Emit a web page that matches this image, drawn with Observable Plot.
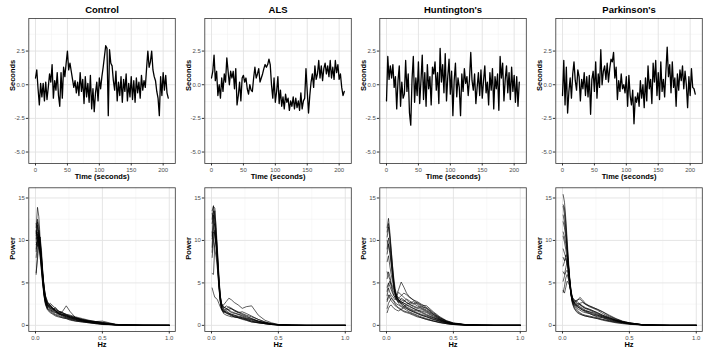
<!DOCTYPE html>
<html>
<head>
<meta charset="utf-8">
<script src="https://cdn.jsdelivr.net/npm/d3@7"></script>
<script src="https://cdn.jsdelivr.net/npm/@observablehq/plot@0.6"></script>
<style>
  body { margin: 0; background: #fff; }
  #chart { position: relative; width: 709px; height: 355px; font-family: "Liberation Sans", Arial, sans-serif; }
  #chart svg { position: absolute; overflow: visible; }
  #chart g[aria-label="x-axis tick label"] text,
  #chart g[aria-label="y-axis tick label"] text { fill: #4d4d4d; }
</style>
</head>
<body>
<div id="chart"></div>
<script>
// Facet titles
const groups = ["Control", "ALS", "Huntington's", "Parkinson's"];

// Stride-interval series, one value every 2 seconds (deviation in seconds)
const timeStep = 2;
const controlSignal = [
  0.5, 1.1, -0.3, -1.5, 0.1, -0.9, 0.1, -1.2, 0.2, -1.1,
  -0.2, 0.8, 0.2, 1.5, -1.0, 0.3, -0.4, 0.9, -0.8, -1.6,
  0.9, -1.0, 1.3, 0.6, 1.6, 2.5, 1.1, 1.6, 1.0, 0.4,
  -0.2, 0.3, -0.6, 0.2, -0.8, 0.9, -0.5, 0.4, -1.4, 0.6,
  -0.9, 0.1, -1.3, 0.7, -1.8, -0.3, -2.0, -0.6, 0.2, -1.2,
  0.5, -0.3, 0.6, 1.3, 2.1, 2.9, 2.7, -2.3, 2.6, 1.6,
  1.4, 0.3, -0.4, 1.0, -1.2, 0.2, -0.8, 0.6, -1.3, 0.4,
  -0.5, 0.8, -1.2, 0.1, -0.9, 0.6, -1.1, 0.3, -1.3, 0.5,
  -0.6, 0.2, -1.0, 0.7, -0.4, 0.3, -0.2, 1.2, 2.5, 1.3,
  1.7, 2.5, 1.1, 0.6, 0.3, -0.5, -1.0, -2.3, 0.6, -0.8,
  0.9, -0.4, 0.7, -0.6, -1.0
];
const alsSignal = [
  0.5, 1.0, 2.2, 0.3, 1.0, -0.8, 0.0, -1.0, 0.5, -0.5,
  0.8, 0.2, 2.0, 1.0, 0.0, 1.0, 0.5, 1.0, -0.3, 1.2,
  -1.5, -0.8, 0.2, -1.2, 0.5, 0.7, 0.2, 0.5, -0.3, -0.7,
  0.0, -0.4, -0.5, 0.5, 1.3, 0.5, 0.8, 1.2, 0.2, 0.5,
  0.8, 1.2, 1.5, 1.3, 1.5, 1.9, 1.5, 0.0, -1.0, 0.5,
  -1.3, -0.5, 0.6, -1.4, -0.4, -1.6, -0.9, -1.8, -0.7, -1.3,
  -1.0, -1.9, -1.2, -1.6, -0.9, -1.8, -1.0, -1.7, -1.2, -1.9,
  -0.6, -1.8, -1.2, -1.0, 1.2, -0.5, -2.1, -0.8, 0.2, 0.8,
  -0.2, 1.4, 0.4, 0.8, 1.8, 0.5, 1.4, 0.3, 1.2, 1.6,
  0.8, 1.4, 0.6, 1.8, 0.5, 1.3, 0.4, 1.8, 0.9, 1.5,
  0.4, 0.8, -0.2, -0.8, -0.5
];
const huntingtonSignal = [
  -1.2, 2.1, 0.4, 1.4, 0.5, 1.5, -0.2, 0.6, -1.8, 0.3,
  1.4, -1.6, 0.2, -1.0, -0.7, 1.8, -0.5, 0.8, -2.1, -3.0,
  0.4, 2.1, -1.3, 0.5, -0.8, 1.7, -1.4, 0.3, 2.2, -1.1,
  0.9, -1.6, 1.5, -0.3, 0.6, -1.5, 1.3, 0.8, 1.7, -0.4,
  0.9, -1.4, 2.7, 0.2, 1.5, -0.6, 2.3, -1.2, 0.6, 1.9,
  -0.7, 1.0, -2.3, 0.3, 1.6, -0.9, 0.5, -0.2, -2.3, 0.8,
  -0.5, 1.2, 0.1, 0.6, -0.8, 0.4, 2.4, 0.3, -0.4, 0.8,
  -1.4, -0.2, 0.9, -0.8, 1.1, -1.0, 0.3, 1.4, -0.6, 0.2,
  -1.5, 0.9, -0.4, 1.2, -1.8, 0.6, -0.3, 0.8, -1.9, 2.1,
  0.5, 1.6, -1.2, 0.4, 1.4, -0.6, 0.9, -1.1, 1.3, -0.5,
  0.7, -1.3, 0.6, -1.6, 0.2
];
const parkinsonSignal = [
  -0.8, 1.8, -1.5, 1.3, -2.1, -0.5, 0.5, -1.0, 0.8, 1.7,
  0.3, -0.4, 1.1, 0.6, -1.2, 0.4, -0.3, 0.9, -0.8, 0.6,
  -0.9, 0.7, -2.2, 0.4, 1.0, -0.5, 1.7, -1.0, 0.8, -0.2,
  2.6, 0.0, 1.0, 1.4, 0.4, 1.6, 0.2, 1.2, 1.9, 1.7,
  2.4, 0.5, 1.3, -1.1, 0.3, -0.5, 0.8, -0.3, 0.0, -0.6,
  0.6, -1.6, 0.7, -0.8, -1.5, -0.4, -2.9, -0.9, -1.3, -0.6,
  -1.6, 0.3, -1.0, 0.0, -1.7, 0.5, -1.2, 1.4, -0.3, 0.4,
  -1.4, 1.6, 0.2, 1.8, -0.8, 0.9, -1.1, 1.7, -0.5, 0.4,
  -0.9, 1.0, 2.8, 0.6, 1.5, -0.6, 1.7, -0.2, 0.5, -1.6,
  0.8, -0.4, 1.1, 0.3, 1.4, -0.3, 1.0, 0.0, -1.7, 0.6,
  -0.8, 1.2, -0.2, -0.3, -0.7
];

// Frequencies (Hz) at which each subject's power spectrum is listed
const hz = [0.005, 0.015, 0.025, 0.035, 0.045, 0.055, 0.065, 0.075, 0.09, 0.11,
            0.13, 0.15, 0.17, 0.2, 0.23, 0.26, 0.3, 0.35, 0.4, 0.45,
            0.5, 0.6, 0.7, 0.8, 1.0];

// Power spectra, one row per subject
const controlSpectra = [
  [11.5,13.9,12.8,10.2,8.1,6.0,4.2,3.0,2.3,2.0,1.8,1.6,1.4,1.2,1.0,0.8,0.6,0.45,0.35,0.25,0.15,0.06,0.02,0.01,0],
  [10.2,12.2,11.0,9.5,7.6,5.5,3.8,2.7,2.1,2.4,2.1,1.7,1.5,1.6,2.3,1.6,0.9,0.6,0.45,0.4,0.35,0.1,0.03,0.01,0],
  [9.0,10.8,10.1,8.7,6.9,5.0,3.6,2.6,2.2,1.9,1.5,1.3,1.2,1.0,0.9,0.8,0.7,0.5,0.4,0.3,0.2,0.08,0.03,0.01,0],
  [6.2,7.8,9.5,10.4,8.8,6.2,4.0,3.1,2.5,2.2,1.9,1.7,1.5,1.3,1.1,0.9,0.7,0.5,0.35,0.25,0.15,0.05,0.02,0,0],
  [11.0,10.5,9.6,8.0,6.5,4.8,3.5,2.8,2.0,1.7,1.6,1.5,1.3,1.2,1.0,0.9,0.8,0.6,0.5,0.45,0.5,0.12,0.03,0.01,0],
  [8.0,9.6,11.2,9.9,7.7,5.6,4.1,3.2,2.6,2.4,2.0,1.8,1.4,1.1,0.9,0.7,0.5,0.4,0.3,0.2,0.1,0.04,0.01,0,0],
  [10.6,11.8,10.4,9.1,7.2,5.2,3.9,3.0,2.4,2.0,1.8,2.1,1.7,1.4,1.2,1.0,0.8,0.6,0.5,0.35,0.2,0.07,0.02,0.01,0],
  [9.5,10.0,9.2,8.4,7.0,5.8,4.4,3.4,2.7,2.3,2.0,1.8,1.6,1.5,1.3,1.1,0.9,0.7,0.5,0.4,0.3,0.1,0.03,0.01,0],
  [12.0,11.3,10.0,8.2,6.3,4.6,3.3,2.5,1.9,1.6,1.4,1.2,1.1,0.9,0.8,0.7,0.6,0.5,0.4,0.3,0.2,0.06,0.02,0,0],
  [6.0,8.5,10.6,9.3,7.4,5.4,3.7,2.9,2.3,2.6,2.3,2.0,1.7,1.5,1.3,1.2,1.0,0.8,0.6,0.45,0.3,0.1,0.03,0.01,0],
  [10.8,12.5,11.6,9.6,7.9,5.9,4.3,3.3,2.5,2.1,1.9,1.6,1.4,1.3,1.1,0.9,0.7,0.55,0.4,0.3,0.2,0.08,0.02,0,0],
  [9.8,9.3,10.5,9.0,6.8,5.1,3.6,2.6,2.0,1.8,1.7,1.5,1.4,1.2,1.1,1.0,0.8,0.7,0.55,0.45,0.35,0.12,0.04,0.01,0],
  [11.2,10.1,9.4,8.6,7.3,5.3,3.4,2.4,1.8,1.5,1.3,1.1,1.0,0.9,0.8,0.6,0.5,0.4,0.3,0.2,0.15,0.05,0.02,0,0],
  [8.7,10.4,9.8,8.9,7.5,5.7,4.0,3.0,2.4,2.2,2.0,1.9,1.7,1.5,1.2,1.0,0.9,0.7,0.5,0.4,0.25,0.08,0.02,0,0],
  [10.0,11.0,10.8,9.7,8.2,6.1,4.5,3.5,2.8,2.3,1.9,1.7,1.5,1.3,1.2,1.1,0.9,0.6,0.45,0.3,0.2,0.06,0.02,0,0]
];
const alsSpectra = [
  [12.5,14.0,13.8,11.0,8.0,5.0,3.0,2.0,1.6,1.5,1.4,1.3,1.2,1.0,0.9,0.7,0.5,0.35,0.2,0.1,0.05,0.02,0,0,0],
  [13.2,12.0,10.5,9.2,7.0,4.5,2.8,1.8,1.5,1.7,1.5,1.2,1.0,0.9,0.8,0.6,0.4,0.3,0.2,0.1,0.05,0.01,0,0,0],
  [4.4,3.8,3.3,3.2,3.0,2.6,2.2,1.9,1.7,1.5,1.3,1.1,1.0,0.9,0.8,0.7,0.5,0.3,0.2,0.1,0.05,0.01,0,0,0],
  [8.6,11.5,12.0,10.0,7.5,5.2,3.2,2.2,2.4,2.8,3.2,3.0,2.7,2.4,2.0,2.2,2.3,1.2,0.6,0.3,0.1,0.03,0,0,0],
  [10.5,13.5,12.5,10.8,8.2,5.5,3.4,2.5,2.0,2.3,2.1,1.9,1.8,1.6,1.4,1.2,1.0,0.7,0.4,0.2,0.1,0.02,0,0,0],
  [6.1,6.0,9.5,10.5,8.5,5.8,3.5,2.3,1.8,1.6,1.4,1.3,1.2,1.1,1.0,0.8,0.6,0.4,0.25,0.12,0.05,0.01,0,0,0],
  [11.0,10.2,9.0,8.0,6.5,4.6,3.0,2.0,1.4,1.2,1.1,1.0,1.0,0.9,0.7,0.6,0.4,0.3,0.2,0.1,0.05,0.01,0,0,0],
  [12.0,13.0,11.8,9.6,7.2,5.0,3.3,2.4,1.9,1.8,1.9,2.0,1.8,1.5,1.3,1.1,0.8,0.5,0.3,0.15,0.07,0.02,0,0,0],
  [9.2,12.5,13.5,11.5,8.8,6.0,3.6,2.6,2.2,2.0,1.7,1.5,1.4,1.3,1.2,1.0,0.8,0.5,0.3,0.15,0.06,0.02,0,0,0],
  [8.0,9.8,11.2,10.0,7.8,5.3,3.2,2.1,1.7,1.4,1.3,1.2,1.1,1.0,0.9,0.8,0.7,0.45,0.3,0.15,0.05,0.01,0,0,0],
  [13.5,14.1,12.2,9.8,7.4,4.8,2.9,2.0,1.6,1.9,2.2,2.0,1.7,1.5,1.6,1.4,1.1,0.7,0.4,0.2,0.08,0.02,0,0,0],
  [10.2,11.0,10.8,9.5,7.6,5.4,3.5,2.6,2.1,2.0,1.8,1.6,1.5,1.3,1.1,0.9,0.7,0.5,0.3,0.15,0.06,0.01,0,0,0]
];
const huntingtonSpectra = [
  [11.5,12.6,11.0,9.0,7.0,5.2,4.0,3.4,3.0,2.8,2.6,2.4,2.2,2.0,1.8,1.6,1.3,0.9,0.6,0.35,0.2,0.06,0.02,0,0],
  [10.4,11.6,10.2,8.4,6.5,4.9,3.6,3.0,2.7,3.2,3.0,2.7,2.5,2.3,2.1,2.2,2.0,1.3,0.8,0.4,0.2,0.05,0.01,0,0],
  [4.5,5.0,4.6,4.2,3.8,3.5,3.3,3.6,4.2,5.1,4.5,3.8,3.4,3.0,2.6,2.3,2.0,1.4,0.9,0.5,0.25,0.07,0.02,0,0],
  [2.0,2.6,2.9,3.2,3.0,2.8,2.5,2.3,2.1,1.9,1.7,1.6,1.5,1.3,1.1,0.9,0.7,0.5,0.35,0.2,0.1,0.03,0.01,0,0],
  [6.3,5.8,5.4,4.6,4.0,3.5,3.2,3.0,2.8,2.6,2.8,3.1,2.9,2.6,2.3,2.0,1.7,1.2,0.7,0.4,0.2,0.05,0.01,0,0],
  [9.0,10.3,9.5,7.9,6.2,4.8,3.9,3.3,2.9,2.6,2.4,2.2,2.0,1.8,1.7,1.5,1.2,0.9,0.6,0.35,0.2,0.05,0.01,0,0],
  [3.5,4.4,3.9,3.6,3.4,3.2,3.0,3.4,3.9,3.6,3.3,3.0,2.7,2.5,2.7,2.4,2.3,1.6,1.0,0.55,0.3,0.08,0.02,0,0],
  [7.5,8.2,7.0,6.0,5.2,4.4,3.8,3.3,2.9,2.5,2.2,2.0,1.8,1.6,1.4,1.2,1.0,0.7,0.45,0.25,0.12,0.03,0.01,0,0],
  [1.5,2.0,2.3,2.4,2.2,2.0,1.9,1.8,1.7,1.9,2.1,2.0,1.8,1.6,1.4,1.2,1.0,0.7,0.5,0.3,0.15,0.04,0.01,0,0],
  [11.0,12.0,10.6,8.8,7.0,5.5,4.3,3.6,3.2,3.0,2.9,2.7,2.5,2.2,2.0,1.9,1.6,1.1,0.7,0.4,0.2,0.05,0.01,0,0],
  [5.5,6.3,5.8,5.0,4.6,4.2,3.8,3.5,3.2,3.5,3.8,3.6,3.3,3.0,2.8,2.5,2.1,1.5,0.9,0.5,0.25,0.06,0.02,0,0],
  [2.8,3.3,3.6,3.3,3.1,2.9,2.7,2.5,2.4,2.2,2.0,1.8,1.6,1.4,1.2,1.0,0.8,0.55,0.35,0.2,0.1,0.03,0.01,0,0],
  [8.4,9.6,8.8,7.4,5.9,4.6,3.7,3.1,2.6,2.3,2.2,2.4,2.3,2.0,1.8,1.7,1.5,1.0,0.65,0.35,0.18,0.04,0.01,0,0],
  [4.0,4.8,5.2,4.8,4.3,3.9,3.5,3.2,3.0,2.8,2.6,2.5,2.6,2.8,2.5,2.1,1.8,1.3,0.8,0.45,0.22,0.06,0.02,0,0],
  [10.0,9.4,8.5,7.2,5.8,4.7,3.9,3.4,3.0,2.7,2.4,2.1,1.9,1.7,1.5,1.3,1.1,0.8,0.5,0.3,0.15,0.04,0.01,0,0],
  [3.0,3.6,3.2,2.9,2.7,2.5,2.3,2.2,2.0,1.8,1.6,1.5,1.4,1.2,1.0,0.9,0.7,0.5,0.3,0.2,0.1,0.03,0.01,0,0]
];
const parkinsonSpectra = [
  [15.4,14.5,12.5,10.0,7.6,5.4,3.8,3.0,2.6,2.4,2.2,2.0,1.8,1.6,1.4,1.2,1.0,0.7,0.5,0.35,0.2,0.06,0.02,0,0],
  [14.2,13.8,12.0,9.5,7.2,5.0,3.5,2.8,2.4,2.2,2.0,1.8,1.6,1.4,1.2,1.1,0.9,0.6,0.45,0.3,0.2,0.05,0.01,0,0],
  [11.0,10.4,9.6,8.5,7.0,5.2,3.9,3.2,2.8,3.0,3.1,2.8,2.5,2.2,2.0,1.8,1.4,1.0,0.7,0.45,0.3,0.08,0.02,0,0],
  [4.1,3.8,4.5,5.2,5.0,4.6,3.8,3.1,2.6,2.3,2.1,1.9,1.7,1.5,1.3,1.2,1.0,0.8,0.6,0.4,0.25,0.07,0.02,0,0],
  [6.3,6.0,6.8,7.6,6.5,5.1,3.7,2.9,2.5,2.2,2.0,1.8,1.7,1.6,1.5,1.3,1.1,0.8,0.55,0.35,0.2,0.05,0.01,0,0],
  [9.0,8.5,8.0,7.3,6.2,4.8,3.6,2.7,2.2,1.8,1.5,1.3,1.2,1.1,1.0,0.9,0.7,0.55,0.4,0.3,0.2,0.05,0.01,0,0],
  [13.0,12.1,10.8,8.9,6.9,5.1,3.6,2.9,2.7,2.9,3.3,3.0,2.6,2.3,2.1,1.9,1.6,1.2,0.8,0.5,0.3,0.08,0.02,0,0],
  [8.0,7.6,8.3,8.0,6.7,5.3,4.0,3.3,2.9,2.6,2.4,2.2,2.0,1.9,1.7,1.5,1.2,0.9,0.6,0.4,0.25,0.07,0.02,0,0],
  [10.5,9.8,8.9,7.8,6.4,4.9,3.4,2.5,1.9,1.5,1.3,1.2,1.1,1.0,0.9,0.8,0.7,0.5,0.35,0.25,0.15,0.04,0.01,0,0],
  [12.2,11.5,10.3,8.6,6.8,5.0,3.7,3.0,2.5,2.3,2.5,2.3,2.1,1.9,1.7,1.5,1.2,0.9,0.6,0.4,0.25,0.06,0.02,0,0],
  [7.0,7.5,7.9,7.2,6.0,4.6,3.5,2.7,2.3,2.0,1.8,1.6,1.5,1.4,1.2,1.0,0.9,0.7,0.5,0.35,0.2,0.06,0.02,0,0],
  [5.2,5.8,6.3,6.5,5.8,4.7,3.6,3.0,2.7,2.5,2.6,2.7,2.5,2.3,2.1,1.9,1.6,1.1,0.75,0.45,0.3,0.08,0.02,0,0],
  [14.0,13.0,11.3,9.2,7.1,5.2,3.5,2.6,2.0,1.6,1.4,1.2,1.1,1.0,0.9,0.8,0.6,0.45,0.3,0.2,0.12,0.03,0.01,0,0],
  [3.9,4.6,5.6,6.0,5.4,4.5,3.7,3.2,3.0,2.8,2.5,2.2,2.0,1.8,1.6,1.4,1.1,0.85,0.6,0.4,0.25,0.07,0.02,0,0]
];

// Axis ticks
const timeTicks = [0, 50, 100, 150, 200];
const timeMinor = [25, 75, 125, 175];
const secTicks = [-5, -2.5, 0, 2.5];
const secMinor = [-3.75, -1.25, 1.25, 3.75];
const hzTicks = [0, 0.5, 1];
const hzMinor = [0.25, 0.75];
const powerTicks = [0, 5, 10, 15];
const powerMinor = [2.5, 7.5, 12.5];

const signals = [controlSignal, alsSignal, huntingtonSignal, parkinsonSignal];
const spectra = [controlSpectra, alsSpectra, huntingtonSpectra, parkinsonSpectra];

// Layout of the 4 x 2 panel grid
const frameLefts = [28.3, 204.2, 379.6, 555];
const frameW = 146.5;
const mLeft = 28.3, mRight = 4;
const font = "'Liberation Sans', Arial, Helvetica, sans-serif";

function gridMarks(xMajor, xMinor, yMajor, yMinor) {
  return [
    Plot.ruleX(xMinor, {stroke: "#efefef", strokeWidth: 0.5}),
    Plot.ruleY(yMinor, {stroke: "#efefef", strokeWidth: 0.5}),
    Plot.ruleX(xMajor, {stroke: "#e2e2e2", strokeWidth: 0.9}),
    Plot.ruleY(yMajor, {stroke: "#e2e2e2", strokeWidth: 0.9})
  ];
}

function axisTitles(xTitle, yTitle) {
  return [
    Plot.text([xTitle], {frameAnchor: "bottom", dy: 13.2, lineAnchor: "middle", fontSize: 7.5, fontWeight: "bold", fill: "#000"}),
    Plot.text([yTitle], {frameAnchor: "left", dx: -16.5, rotate: -90, lineAnchor: "middle", fontSize: 7.5, fontWeight: "bold", fill: "#000"})
  ];
}

function signalPanel(i) {
  const rows = signals[i].map((v, k) => ({t: k * timeStep, v}));
  return Plot.plot({
    width: mLeft + frameW + mRight,
    height: 180,
    marginLeft: mLeft, marginRight: mRight, marginTop: 18, marginBottom: 17,
    style: {fontFamily: font, fontSize: "6px", color: "#333", background: "transparent"},
    x: {domain: [-10.5, 219], ticks: timeTicks, tickSize: 2.5, tickPadding: 1.5, label: null},
    y: {domain: [-5.85, 4.92], ticks: secTicks, tickFormat: d => d.toFixed(1), tickSize: 2.5, tickPadding: 1.5, label: null},
    marks: [
      ...gridMarks(timeTicks, timeMinor, secTicks, secMinor),
      Plot.line(rows, {x: "t", y: "v", stroke: "#000", strokeWidth: 1.3}),
      Plot.frame({stroke: "#333", strokeWidth: 0.8}),
      Plot.text([groups[i]], {frameAnchor: "top", dy: -8.5, lineAnchor: "middle", fontSize: 9.5, fontWeight: "bold", fill: "#000"}),
      ...axisTitles("Time (seconds)", "Seconds")
    ]
  });
}

function spectrumPanel(i) {
  const rows = spectra[i].flatMap((curve, s) => curve.map((p, k) => ({subject: s, hz: hz[k], power: p})));
  return Plot.plot({
    width: mLeft + frameW + mRight,
    height: 175,
    marginLeft: mLeft, marginRight: mRight, marginTop: 7.3, marginBottom: 24,
    style: {fontFamily: font, fontSize: "6px", color: "#333", background: "transparent"},
    x: {domain: [-0.05, 1.045], ticks: hzTicks, tickFormat: d => d.toFixed(1), tickSize: 2.5, tickPadding: 1.5, label: null},
    y: {domain: [-0.72, 16.2], ticks: powerTicks, tickFormat: d => String(d), tickSize: 2.5, tickPadding: 1.5, label: null},
    marks: [
      ...gridMarks(hzTicks, hzMinor, powerTicks, powerMinor),
      Plot.line(rows, {x: "hz", y: "power", z: "subject", stroke: "#000", strokeWidth: 0.7, strokeOpacity: 0.9}),
      Plot.frame({stroke: "#333", strokeWidth: 0.8}),
      ...axisTitles("Hz", "Power")
    ]
  });
}

const chart = document.getElementById("chart");
groups.forEach((g, i) => {
  const top = signalPanel(i);
  top.style.left = (frameLefts[i] - mLeft) + "px";
  top.style.top = "0px";
  chart.appendChild(top);
  const bottom = spectrumPanel(i);
  bottom.style.left = (frameLefts[i] - mLeft) + "px";
  bottom.style.top = "180px";
  chart.appendChild(bottom);
});
</script>
</body>
</html>
